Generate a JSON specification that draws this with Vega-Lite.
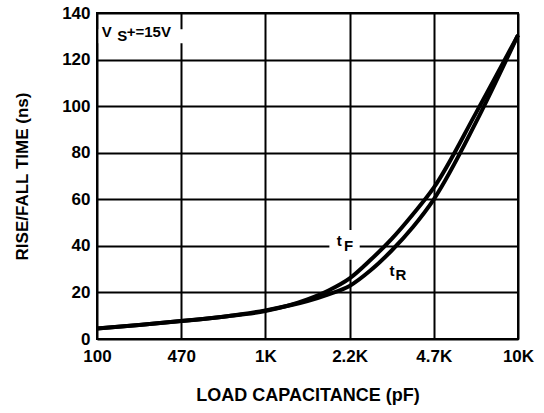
{
  "$schema": "https://vega.github.io/schema/vega-lite/v6.json",
  "width": 421,
  "height": 326,
  "autosize": {"type": "none"},
  "padding": {"left": 97, "top": 13, "right": 26, "bottom": 74},
  "background": "white",
  "config": {
    "font": "Liberation Sans",
    "view": {"stroke": "black", "strokeWidth": 2},
    "axis": {
      "labelFont": "Liberation Sans",
      "labelFontWeight": "bold",
      "labelFontSize": 17,
      "labelColor": "black",
      "titleFont": "Liberation Sans",
      "titleFontWeight": "bold",
      "titleColor": "black",
      "grid": true,
      "gridColor": "black",
      "gridWidth": 2,
      "gridOpacity": 1,
      "ticks": false,
      "domain": false
    },
    "text": {"font": "Liberation Sans", "fontSize": 15, "fontWeight": "bold", "align": "left", "baseline": "alphabetic", "color": "black"}
  },
  "datasets": {
    "curves": [
      {"cap": 0, "time": 4.5, "edge": "tF"},
      {"cap": 0.5, "time": 6, "edge": "tF"},
      {"cap": 1, "time": 7.7, "edge": "tF"},
      {"cap": 1.5, "time": 9.6, "edge": "tF"},
      {"cap": 2, "time": 12, "edge": "tF"},
      {"cap": 2.5, "time": 17, "edge": "tF"},
      {"cap": 2.75, "time": 20.8, "edge": "tF"},
      {"cap": 3, "time": 26, "edge": "tF"},
      {"cap": 3.25, "time": 34, "edge": "tF"},
      {"cap": 3.5, "time": 43, "edge": "tF"},
      {"cap": 3.75, "time": 53.5, "edge": "tF"},
      {"cap": 4, "time": 65, "edge": "tF"},
      {"cap": 4.5, "time": 97, "edge": "tF"},
      {"cap": 5, "time": 130.5, "edge": "tF"},
      {"cap": 0, "time": 4.5, "edge": "tR"},
      {"cap": 0.5, "time": 6, "edge": "tR"},
      {"cap": 1, "time": 7.7, "edge": "tR"},
      {"cap": 1.5, "time": 9.6, "edge": "tR"},
      {"cap": 2, "time": 12.3, "edge": "tR"},
      {"cap": 2.5, "time": 16.3, "edge": "tR"},
      {"cap": 2.75, "time": 19.2, "edge": "tR"},
      {"cap": 3, "time": 22.8, "edge": "tR"},
      {"cap": 3.25, "time": 29.5, "edge": "tR"},
      {"cap": 3.5, "time": 38, "edge": "tR"},
      {"cap": 3.75, "time": 48, "edge": "tR"},
      {"cap": 4, "time": 60, "edge": "tR"},
      {"cap": 4.5, "time": 93, "edge": "tR"},
      {"cap": 5, "time": 130.5, "edge": "tR"}
    ],
    "one": [{"n": 1}]
  },
  "data": {"name": "one"},
  "encoding": {
    "x": {
      "type": "quantitative",
      "scale": {"domain": [0, 5], "nice": false, "zero": false},
      "axis": {
        "values": [0, 1, 2, 3, 4, 5],
        "labelExpr": "['100','470','1K','2.2K','4.7K','10K'][datum.value]",
        "labelPadding": 9,
        "labelFlush": false,
        "labelOverlap": false,
        "title": "LOAD CAPACITANCE (pF)",
        "titleFontSize": 18,
        "titlePadding": 22
      }
    },
    "y": {
      "type": "quantitative",
      "scale": {"domain": [0, 140], "nice": false},
      "axis": {
        "values": [0, 20, 40, 60, 80, 100, 120, 140],
        "labelPadding": 7,
        "labelFlush": false,
        "labelOverlap": false,
        "title": "RISE/FALL TIME (ns)",
        "titleFontSize": 17,
        "titlePadding": 30
      }
    }
  },
  "layer": [
    {
      "mark": {"type": "rect", "color": "white"},
      "encoding": {
        "x": {"datum": 0.02, "type": "quantitative"},
        "x2": {"datum": 1.06},
        "y": {"datum": 127, "type": "quantitative"},
        "y2": {"datum": 133}
      }
    },
    {
      "mark": {"type": "rect", "color": "white"},
      "encoding": {
        "x": {"datum": 2.76, "type": "quantitative"},
        "x2": {"datum": 3.12},
        "y": {"datum": 34, "type": "quantitative"},
        "y2": {"datum": 46.8}
      }
    },
    {
      "data": {"name": "curves"},
      "mark": {"type": "line", "color": "black", "strokeWidth": 4, "interpolate": "monotone"},
      "encoding": {
        "x": {"field": "cap", "type": "quantitative"},
        "y": {"field": "time", "type": "quantitative"},
        "detail": {"field": "edge"}
      }
    },
    {
      "mark": {"type": "text", "text": "V"},
      "encoding": {"x": {"datum": 0.056, "type": "quantitative"}, "y": {"datum": 129.9, "type": "quantitative"}}
    },
    {
      "mark": {"type": "text", "text": "S"},
      "encoding": {"x": {"datum": 0.241, "type": "quantitative"}, "y": {"datum": 127.8, "type": "quantitative"}}
    },
    {
      "mark": {"type": "text", "text": "+=15V"},
      "encoding": {"x": {"datum": 0.353, "type": "quantitative"}, "y": {"datum": 129.9, "type": "quantitative"}}
    },
    {
      "mark": {"type": "text", "text": "t"},
      "encoding": {"x": {"datum": 2.847, "type": "quantitative"}, "y": {"datum": 39.8, "type": "quantitative"}}
    },
    {
      "mark": {"type": "text", "text": "F"},
      "encoding": {"x": {"datum": 2.933, "type": "quantitative"}, "y": {"datum": 37.6, "type": "quantitative"}}
    },
    {
      "mark": {"type": "text", "text": "t"},
      "encoding": {"x": {"datum": 3.474, "type": "quantitative"}, "y": {"datum": 26.9, "type": "quantitative"}}
    },
    {
      "mark": {"type": "text", "text": "R"},
      "encoding": {"x": {"datum": 3.545, "type": "quantitative"}, "y": {"datum": 25.2, "type": "quantitative"}}
    }
  ]
}
